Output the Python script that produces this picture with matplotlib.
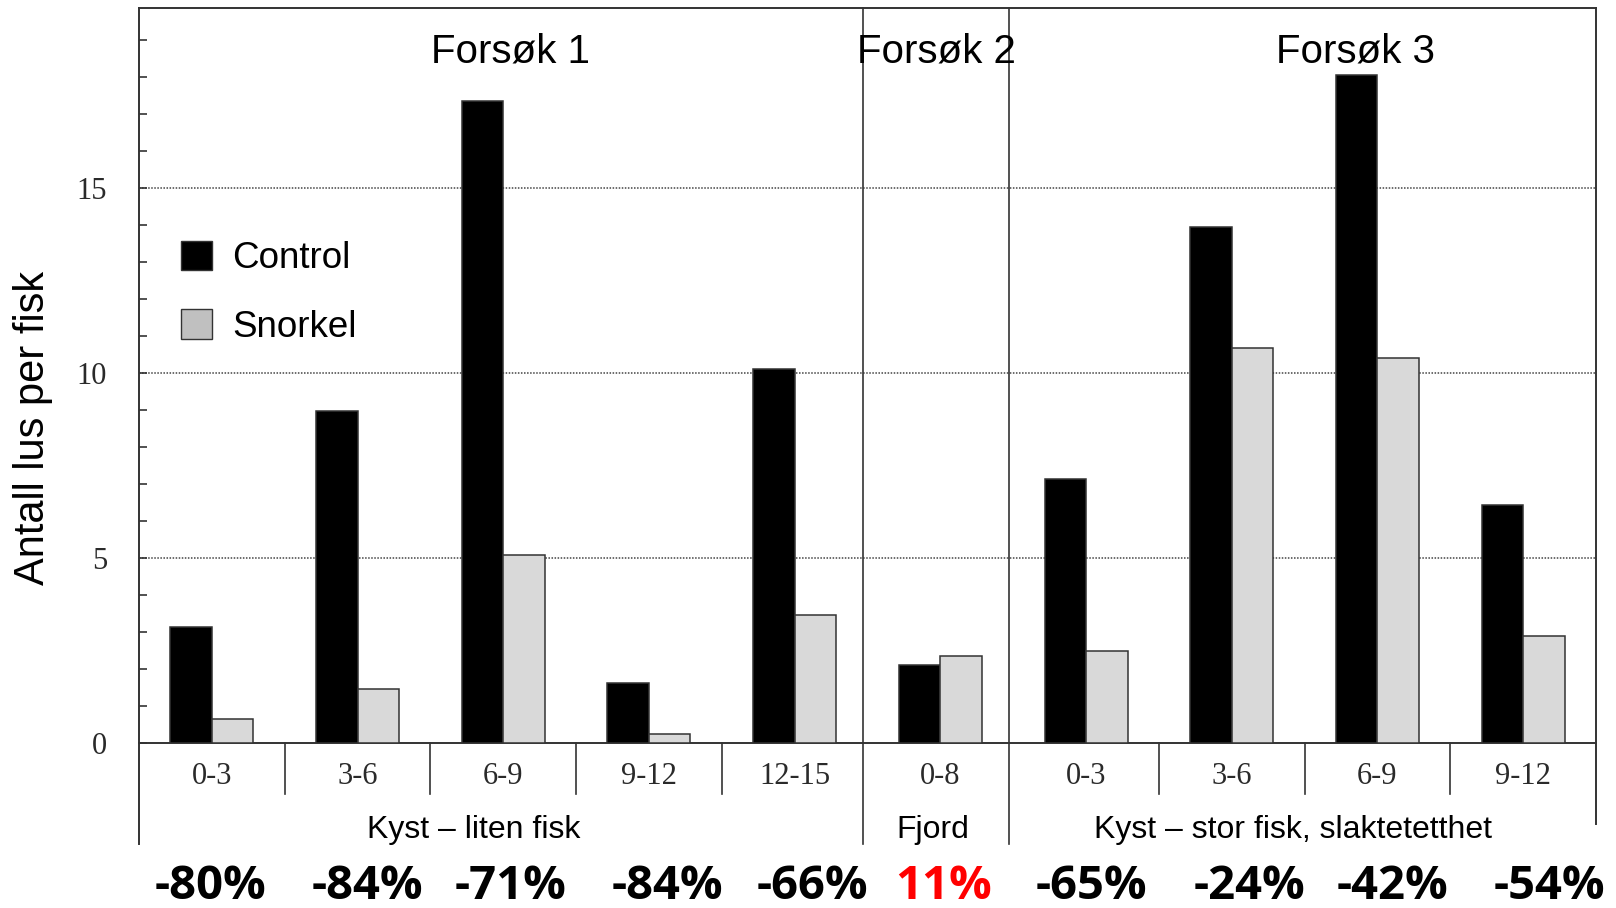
import matplotlib
matplotlib.use('Agg')
import matplotlib.pyplot as plt
from matplotlib.patches import Patch
import numpy as np

# ---- data ----
categories = ['0-3', '3-6', '6-9', '9-12', '12-15', '0-8', '0-3', '3-6', '6-9', '9-12']
control = [3.13, 8.97, 17.35, 1.62, 10.10, 2.11, 7.12, 13.94, 18.04, 6.43]
snorkel = [0.64, 1.45, 5.07, 0.25, 3.45, 2.36, 2.48, 10.67, 10.41, 2.89]
pct_labels = ['-80%', '-84%', '-71%', '-84%', '-66%', '11%', '-65%', '-24%', '-42%', '-54%']
pct_colors = ['black'] * 5 + ['#ff0000'] + ['black'] * 4
group_labels = ['Kyst – liten fisk', 'Fjord', 'Kyst – stor fisk, slaktetetthet']
trial_labels = ['Forsøk 1', 'Forsøk 2', 'Forsøk 3']
yticks = [0, 5, 10, 15]
series_names = ['Control', 'Snorkel']

# ---- layout (not data) ----
pct_shift = [-0.01, 0.07, 0.05, 0.13, 0.12, 0.02, 0.04, 0.12, 0.10, 0.18]
group_x = [1.80, 4.95, 7.42]
trial_x = [2.05, 4.97, 7.85]
dividers = [4.47, 5.47]
separators = [0.5, 1.5, 2.5, 3.5, 6.5, 7.5, 8.5]

sans = ['Liberation Sans', 'DejaVu Sans']
serif = ['Liberation Serif', 'DejaVu Serif']
line_c = '#333333'
tick_c = '#2a2a2a'

fig = plt.figure(figsize=(16.16, 9.08), dpi=100)
ax = fig.add_axes([139 / 1616, 165 / 908, 1457 / 1616, 735 / 908])

x = np.arange(len(categories))
w = 0.285
ax.bar(x - w / 2, control, w, color='black', edgecolor=line_c, linewidth=1.1, zorder=3)
ax.bar(x + w / 2, snorkel, w, color='#d9d9d9', edgecolor=line_c, linewidth=1.1, zorder=3)

ax.set_xlim(-0.5, 9.5)
ax.set_ylim(0, 19.86)

# grid
for yv in yticks[1:]:
    ax.axhline(yv, color='#444444', linestyle=(0, (1, 1)), linewidth=1.1, zorder=1)

# spines
for s in ['left', 'right']:
    ax.spines[s].set_visible(False)
ax.spines['top'].set_color(line_c)
ax.spines['top'].set_linewidth(1.4)
ax.spines['bottom'].set_color(line_c)
ax.spines['bottom'].set_linewidth(1.4)

tr = ax.get_xaxis_transform()
ax.plot([-0.5, -0.5], [-0.1374, 1], transform=tr, color=line_c, lw=1.4, clip_on=False, zorder=4)
ax.plot([9.5, 9.5], [-0.110, 1], transform=tr, color=line_c, lw=1.4, clip_on=False, zorder=4)
for d in dividers:
    ax.plot([d, d], [-0.1374, 1], transform=tr, color=line_c, lw=1.2, clip_on=False, zorder=4)
for s in separators:
    ax.plot([s, s], [-0.0694, 0], transform=tr, color=line_c, lw=1.2, clip_on=False, zorder=4)

# y ticks
ax.set_yticks(yticks)
ax.set_yticks(np.arange(0, 20, 1), minor=True)
ax.tick_params(axis='y', which='both', direction='in', length=6, width=1.2, color=line_c,
               left=True, right=False, pad=23)
ax.set_yticklabels([str(v) for v in yticks], fontfamily=serif, fontsize=22, color=tick_c)
ax.set_xticks([])

# x category labels
for i, c in enumerate(categories):
    ax.text(i, -0.045, c, transform=tr, ha='center', va='center',
            fontfamily=serif, fontsize=22, color=tick_c)

# group labels
for gx, g in zip(group_x, group_labels):
    ax.text(gx, -0.118, g, transform=tr, ha='center', va='center',
            fontfamily=sans, fontsize=23, color='black')

# percent labels
for i, (p, col) in enumerate(zip(pct_labels, pct_colors)):
    ax.text(i + pct_shift[i], -0.1946, p, transform=tr, ha='center', va='center',
            fontfamily=['Open Sans', 'DejaVu Sans'], fontweight='bold', fontsize=34, color=col)

# trial labels
for tx, t in zip(trial_x, trial_labels):
    ax.text(tx, 0.941, t, transform=tr, ha='center', va='center',
            fontfamily=sans, fontsize=29, color='black', zorder=5)

# y label
fig.text(33 / 1616, 1 - 428 / 908, 'Antall lus per fisk', rotation=90, ha='center', va='center',
         fontfamily=sans, fontsize=30, color='black')

# legend
handles = [Patch(facecolor='black', edgecolor=line_c, linewidth=1.0),
           Patch(facecolor='#c0c0c0', edgecolor=line_c, linewidth=1.0)]
leg = ax.legend(handles, series_names, loc='upper left', bbox_to_anchor=(0.0289, 0.683),
                frameon=False, borderpad=0, borderaxespad=0, handlelength=0.84,
                handleheight=0.84, handletextpad=0.54, labelspacing=0.9,
                prop={'family': sans, 'size': 26.5})

fig.savefig('out.png', dpi=100)
